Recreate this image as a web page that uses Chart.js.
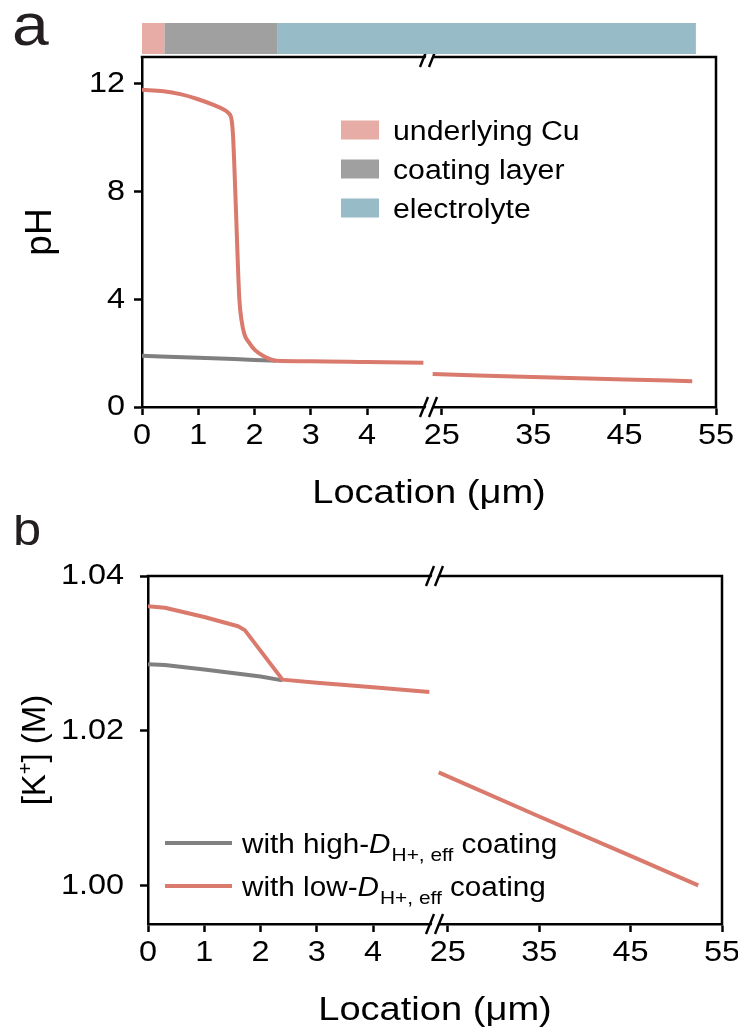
<!DOCTYPE html>
<html><head><meta charset="utf-8">
<title>pH and K+ profiles</title>
<script src="https://cdn.jsdelivr.net/npm/chart.js@4.4.1/dist/chart.umd.min.js"></script>
<style>
html,body{margin:0;padding:0;background:#fff;}
#wrap{position:relative;width:738px;height:1030px;overflow:hidden;background:#fff;}
.pan{position:absolute;left:0;width:738px;height:515px;}
canvas{display:block;}
</style></head><body>
<div id="wrap">
 <div class="pan" style="top:0px"><canvas id="chartA" width="738" height="515"></canvas></div>
 <div class="pan" style="top:515px"><canvas id="chartB" width="738" height="515"></canvas></div>
</div>
<script>
// ---------------- data ----------------
const xTicksLeft = [0, 1, 2, 3, 4];
const xTicksRight = [25, 35, 45, 55];
const pHTicks = [0, 4, 8, 12];
const kTicks = [1.00, 1.02, 1.04];

const layerNames = ['underlying Cu', 'coating layer', 'electrolyte'];
const layerFrom = [0, 0.4, 2.4];
const layerTo = [0.4, 2.4, 52.8];

const pHLowLeftX = [0, 0.38, 0.7, 0.97, 1.27, 1.45, 1.53, 1.58, 1.60, 1.62, 1.64, 1.67, 1.70, 1.73, 1.77, 1.82, 1.9, 2.0, 2.15, 2.38, 3, 4, 5.0];
const pHLowLeftY = [11.78, 11.73, 11.61, 11.45, 11.22, 11.05, 10.93, 10.78, 10.55, 10.0, 9.0, 7.3, 5.5, 4.0, 3.2, 2.7, 2.4, 2.13, 1.9, 1.72, 1.70, 1.67, 1.64];
const pHHighLeftX = [0, 1, 2, 2.38];
const pHHighLeftY = [1.90, 1.83, 1.75, 1.72];
const pHRightX = [24, 29, 35, 45, 52.4];
const pHRightY = [1.23, 1.17, 1.11, 1.02, 0.96];

const kLowLeftX = [0, 0.3, 1, 1.6, 1.72, 2.39, 3, 4, 5.0];
const kLowLeftY = [1.0361, 1.0359, 1.0347, 1.0335, 1.0330, 1.0266, 1.0262, 1.0256, 1.0250];
const kHighLeftX = [0, 0.3, 1, 2, 2.39];
const kHighLeftY = [1.0286, 1.0285, 1.0279, 1.0270, 1.0265];
const kRightX = [24, 35, 45, 52.4];
const kRightY = [1.0146, 1.0089, 1.0038, 1.0000];

const legendPrefix = ['with high-', 'with low-'];

// ---------------- style / layout ----------------
const LEFT_MAX = 5.1, RIGHT_MIN = 23.6, RIGHT_MAX = 55;
const FONT = "'Liberation Sans', Arial, Helvetica, sans-serif";
const TICK_SX = 1.08, TEXT_SX = 1.1;
const RED = '#d97a6d', GREY = '#808080', INK = '#231f20';
const LAYER_COLORS = ['#e8aca6', '#a0a0a0', '#97bcc7'];

function pts(xs, ys) { return xs.map((x, i) => ({ x: x, y: ys[i] })); }

function patchCtx(canvas) {
  const ctx = canvas.getContext('2d');
  const f = ctx.fillText;
  ctx.fillText = function (t, x, y, m) {
    const sx = this.__sx || 1;
    if (sx === 1) { return m === undefined ? f.call(this, t, x, y) : f.call(this, t, x, y, m); }
    this.save(); this.translate(x, y); this.scale(sx, 1);
    f.call(this, t, 0, 0);
    this.restore();
  };
  ctx.__sx = TICK_SX;
}

function txt(ctx, s, x, y, font, opt) {
  opt = opt || {};
  ctx.save();
  ctx.font = font; ctx.fillStyle = opt.color || '#000';
  ctx.textAlign = opt.align || 'left'; ctx.textBaseline = opt.baseline || 'alphabetic';
  ctx.translate(x, y); if (opt.rot) ctx.rotate(opt.rot);
  const sx = opt.sx == null ? TEXT_SX : opt.sx;
  const prev = ctx.__sx; ctx.__sx = sx;
  ctx.fillText(s, 0, 0);
  const w = ctx.measureText(s).width * sx;
  ctx.__sx = prev;
  ctx.restore();
  return w;
}

function xAxis(ticks, min, max) {
  return {
    type: 'linear', position: 'bottom', stack: 'xbreak', stackWeight: 1, min: min, max: max,
    afterBuildTicks: s => { s.ticks = ticks.map(v => ({ value: v })); },
    afterFit: s => { s.height = 60; s.paddingLeft = 0; s.paddingRight = 0; },
    ticks: { color: '#000', font: { family: FONT, size: 30 }, padding: 3, maxRotation: 0, minRotation: 0, autoSkip: false, callback: v => String(v) },
    grid: { display: true, drawOnChartArea: false, drawTicks: true, tickLength: 8, tickWidth: 2.5, tickColor: '#000' },
    border: { display: true, color: '#000', width: 2.5 }
  };
}
function yAxis(ticks, min, max, width, pad, fmt) {
  return {
    type: 'linear', position: 'left', min: min, max: max,
    afterBuildTicks: s => { s.ticks = ticks.map(v => ({ value: v })); },
    afterFit: s => { s.width = width; s.paddingTop = 0; s.paddingBottom = 0; },
    ticks: { color: '#000', font: { family: FONT, size: 30 }, padding: pad, callback: fmt },
    grid: { display: true, drawOnChartArea: false, drawTicks: true, tickLength: 8, tickWidth: 2.5, tickColor: '#000' },
    border: { display: true, color: '#000', width: 2.5 }
  };
}
function lineDs(label, xs, ys, color, xAxisID, smooth) {
  const d = {
    label: label, data: pts(xs, ys), xAxisID: xAxisID, yAxisID: 'y',
    borderColor: color, backgroundColor: color, borderWidth: 4,
    pointRadius: 0, pointHoverRadius: 0, fill: false, tension: 0,
    borderCapStyle: 'butt', borderJoinStyle: 'round'
  };
  if (smooth) d.cubicInterpolationMode = 'monotone';
  return d;
}

function drawBreak(ctx, x, y) {
  ctx.save();
  ctx.fillStyle = '#fff';
  ctx.beginPath();
  ctx.moveTo(x - 6, y + 10); ctx.lineTo(x + 0, y - 10); ctx.lineTo(x + 6, y - 10); ctx.lineTo(x + 0, y + 10);
  ctx.closePath(); ctx.fill();
  ctx.strokeStyle = '#000'; ctx.lineWidth = 2.4;
  ctx.beginPath();
  ctx.moveTo(x - 9, y + 10); ctx.lineTo(x - 1, y - 10);
  ctx.moveTo(x + 0, y + 10); ctx.lineTo(x + 8, y - 10);
  ctx.stroke();
  ctx.restore();
}

const framePlugin = {
  id: 'frame',
  afterDraw(chart) {
    const ctx = chart.ctx, a = chart.chartArea;
    ctx.save();
    ctx.strokeStyle = '#000'; ctx.lineWidth = 2.5;
    ctx.beginPath();
    ctx.moveTo(a.left - 1.25, a.top); ctx.lineTo(a.right + 1.25, a.top);
    ctx.moveTo(a.right, a.top); ctx.lineTo(a.right, a.bottom + 1.25);
    ctx.stroke();
    ctx.restore();
    const bx = chart.scales.xL.right;
    drawBreak(ctx, bx, a.top);
    drawBreak(ctx, bx, a.bottom);
  }
};

function brokenPixel(chart, v) {
  return v <= LEFT_MAX ? chart.scales.xL.getPixelForValue(v) : chart.scales.xR.getPixelForValue(v);
}

// ---------------- panel a ----------------
const panelAPlugin = {
  id: 'panelA',
  afterDraw(chart) {
    const ctx = chart.ctx, a = chart.chartArea;
    for (let i = 0; i < layerNames.length; i++) {
      const x0 = brokenPixel(chart, layerFrom[i]), x1 = brokenPixel(chart, layerTo[i]);
      ctx.fillStyle = LAYER_COLORS[i];
      ctx.fillRect(x0, 23, x1 - x0, 31);
    }
    const rows = [130, 169, 208];
    for (let i = 0; i < layerNames.length; i++) {
      ctx.fillStyle = LAYER_COLORS[i];
      ctx.fillRect(341, rows[i] - 9.5, 38, 19);
      txt(ctx, layerNames[i], 393, rows[i] + 10, '27px ' + FONT, { sx: 1.12 });
    }
    txt(ctx, 'a', 12, 45, '60px ' + FONT, { color: INK, sx: 1.1 });
    txt(ctx, 'Location (\u03bcm)', (a.left + a.right) / 2, 503, '34px ' + FONT, { align: 'center', sx: 1.12 });
    txt(ctx, 'pH', 51, (a.top + a.bottom) / 2, '37px ' + FONT, { align: 'center', rot: -Math.PI / 2, sx: 1 });
  }
};

const cA = document.getElementById('chartA');
patchCtx(cA);
new Chart(cA, {
  type: 'line',
  data: {
    datasets: [
      lineDs('low', pHLowLeftX, pHLowLeftY, RED, 'xL', true),
      lineDs('low', pHRightX, pHRightY, RED, 'xR', true),
      lineDs('high', pHHighLeftX, pHHighLeftY, GREY, 'xL', true)
    ]
  },
  options: {
    responsive: false, animation: false, devicePixelRatio: 1,
    layout: { padding: { left: 0, right: 22, top: 57, bottom: 48 } },
    plugins: { legend: { display: false }, tooltip: { enabled: false } },
    scales: {
      xL: xAxis(xTicksLeft, 0, LEFT_MAX),
      xR: xAxis(xTicksRight, RIGHT_MIN, RIGHT_MAX),
      y: yAxis(pHTicks, 0, 13, 142, 9, v => String(v))
    }
  },
  plugins: [framePlugin, panelAPlugin]
});

// ---------------- panel b ----------------
const panelBPlugin = {
  id: 'panelB',
  afterDraw(chart) {
    const ctx = chart.ctx, a = chart.chartArea;
    const colors = [GREY, RED];
    const rows = [328, 371];
    for (let i = 0; i < 2; i++) {
      ctx.save();
      ctx.strokeStyle = colors[i]; ctx.lineWidth = 4;
      ctx.beginPath(); ctx.moveTo(165, rows[i]); ctx.lineTo(232, rows[i]); ctx.stroke();
      ctx.restore();
      let x = 242;
      const base = rows[i] + 10;
      x += txt(ctx, legendPrefix[i], x, base, '27px ' + FONT);
      x += txt(ctx, 'D', x, base, 'italic 27px ' + FONT);
      x += txt(ctx, 'H+, eff', x + 1, base + 8, '19px ' + FONT) + 1;
      txt(ctx, ' coating', x, base, '27px ' + FONT);
    }
    txt(ctx, 'b', 13, 30, '46px ' + FONT, { color: INK, sx: 1.1 });
    txt(ctx, 'Location (\u03bcm)', (a.left + a.right) / 2, 505, '34px ' + FONT, { align: 'center', sx: 1.12 });
    ctx.save();
    ctx.font = '33px ' + FONT;
    const p1 = '[K', p2 = '] (M)';
    const w1 = ctx.measureText(p1).width, w3 = ctx.measureText(p2).width;
    ctx.font = '20px ' + FONT; const w2 = ctx.measureText('+').width;
    ctx.restore();
    const total = w1 + w2 + w3;
    ctx.save();
    ctx.translate(45, (a.top + a.bottom) / 2);
    ctx.rotate(-Math.PI / 2);
    let x = -total / 2;
    x += txt(ctx, p1, x, 0, '33px ' + FONT, { sx: 1 });
    x += txt(ctx, '+', x, -13, '20px ' + FONT, { sx: 1 });
    txt(ctx, p2, x, 0, '33px ' + FONT, { sx: 1 });
    ctx.restore();
  }
};

const cB = document.getElementById('chartB');
patchCtx(cB);
new Chart(cB, {
  type: 'line',
  data: {
    datasets: [
      lineDs('low', kLowLeftX, kLowLeftY, RED, 'xL', false),
      lineDs('low', kRightX, kRightY, RED, 'xR', false),
      lineDs('high', kHighLeftX, kHighLeftY, GREY, 'xL', false)
    ]
  },
  options: {
    responsive: false, animation: false, devicePixelRatio: 1,
    layout: { padding: { left: 0, right: 16, top: 61, bottom: 46 } },
    plugins: { legend: { display: false }, tooltip: { enabled: false } },
    scales: {
      xL: xAxis(xTicksLeft, 0, LEFT_MAX),
      xR: xAxis(xTicksRight, RIGHT_MIN, RIGHT_MAX),
      y: yAxis(kTicks, 0.995, 1.04, 148, 16, v => Number(v).toFixed(2))
    }
  },
  plugins: [framePlugin, panelBPlugin]
});
</script>
</body></html>
